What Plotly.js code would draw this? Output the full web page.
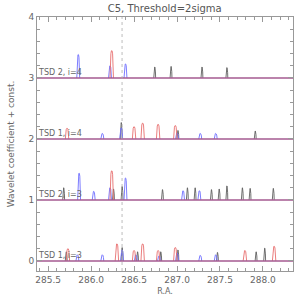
<!DOCTYPE html>
<html><head><meta charset="utf-8">
<script src="https://cdn.plot.ly/plotly-3.0.1.min.js"></script>
<style>html,body{margin:0;padding:0;background:#fff}#c{width:305px;height:305px}</style>
</head><body><div id="c"></div>
<script>
// Panel labels and offsets
const panelLabels = ["TSD 1, i=3", "TSD 2, i=3", "TSD 1, i=4", "TSD 2, i=4"];
const panelOffsets = [0, 1, 2, 3];

// Peak positions (R.A.) and heights, per panel and colour
const p0RedX = [285.73, 286.30, 286.50, 286.60, 286.78, 286.98, 287.79, 288.13];
const p0RedH = [0.20, 0.28, 0.17, 0.28, 0.17, 0.22, 0.17, 0.24];
const p0BlueX = [285.84, 286.13, 286.36, 286.52, 286.79, 287.00, 287.27, 287.45];
const p0BlueH = [0.10, 0.10, 0.18, 0.10, 0.08, 0.13, 0.09, 0.10];
const p0BlackX = [285.71, 286.36, 286.54, 286.81, 287.01, 287.47, 287.92, 288.02];
const p0BlackH = [0.15, 0.22, 0.15, 0.15, 0.18, 0.14, 0.15, 0.21];

const p1RedX = [286.24];
const p1RedH = [0.48];
const p1BlueX = [285.86, 286.03, 286.22, 286.40, 287.07, 287.26];
const p1BlueH = [0.44, 0.14, 0.20, 0.36, 0.15, 0.15];
const p1BlackX = [285.68, 286.26, 286.36, 286.83, 287.12, 287.21, 287.40, 287.49, 287.58, 287.76, 287.85, 288.12];
const p1BlackH = [0.20, 0.18, 0.22, 0.17, 0.20, 0.20, 0.17, 0.18, 0.23, 0.20, 0.19, 0.19];

const p2RedX = [285.72, 286.50, 286.60, 286.78, 286.98];
const p2RedH = [0.175, 0.20, 0.26, 0.24, 0.22];
const p2BlueX = [286.13, 286.35, 287.00, 287.27, 287.45];
const p2BlueH = [0.09, 0.18, 0.10, 0.09, 0.09];
const p2BlackX = [286.35, 287.01, 287.91];
const p2BlackH = [0.27, 0.14, 0.13];

const p3RedX = [286.24];
const p3RedH = [0.45];
const p3BlueX = [285.85, 286.22, 286.40];
const p3BlueH = [0.385, 0.20, 0.23];
const p3BlackX = [286.74, 286.93, 287.29, 287.58];
const p3BlackH = [0.18, 0.19, 0.18, 0.17];

const xRange = [285.37, 288.35];
const markerRA = 286.36;

// drawing style
const profDx = [-1, -0.8, -0.5, -0.2, 0, 0.2, 0.5, 0.8, 1];
const profDy = [0, 0.55, 0.88, 0.99, 1, 0.99, 0.88, 0.55, 0];
const colRed = 'rgb(232,110,110)', colBlue = 'rgb(110,110,255)', colBlack = 'rgb(95,95,95)';

function peaks(cx, hs, off, hw, color) {
  const x = [], y = [];
  cx.forEach((c, i) => {
    profDx.forEach((d, j) => { x.push(c + d * hw); y.push(off + profDy[j] * hs[i]); });
    x.push(null); y.push(null);
  });
  return {x, y, type: 'scatter', mode: 'lines', line: {color, width: 0.9}, hoverinfo: 'skip', showlegend: false};
}

const traces = [];
const data = [
  [p0RedX, p0RedH, p0BlueX, p0BlueH, p0BlackX, p0BlackH],
  [p1RedX, p1RedH, p1BlueX, p1BlueH, p1BlackX, p1BlackH],
  [p2RedX, p2RedH, p2BlueX, p2BlueH, p2BlackX, p2BlackH],
  [p3RedX, p3RedH, p3BlueX, p3BlueH, p3BlackX, p3BlackH]
];
data.forEach((d, k) => {
  const off = panelOffsets[k];
  traces.push(peaks(d[4], d[5], off, 0.011, colBlack));
  traces.push(peaks(d[2], d[3], off, 0.017, colBlue));
  traces.push(peaks(d[0], d[1], off, 0.02, colRed));
  traces.push({x: xRange, y: [off, off], type: 'scatter', mode: 'lines',
    line: {color: 'rgb(165,90,145)', width: 1.4}, hoverinfo: 'skip', showlegend: false});
});

const fontFam = 'DejaVu Sans, sans-serif';
const axisCommon = {
  showgrid: false, zeroline: false, showline: true, linecolor: '#999', linewidth: 1,
  mirror: 'ticks', ticks: 'inside', ticklen: 5, tickcolor: '#999', tickwidth: 1,
  tickfont: {family: fontFam, size: 9, color: '#666'}
};

const layout = {
  width: 305, height: 305,
  margin: {l: 37, r: 12, t: 17, b: 34},
  paper_bgcolor: '#fff', plot_bgcolor: '#fff',
  title: {text: 'C5, Threshold=2sigma', font: {family: fontFam, size: 10, color: '#555'}, x: 0.54, xanchor: 'center', y: 0.985, yanchor: 'top'},
  xaxis: Object.assign({}, axisCommon, {
    range: xRange, tickvals: [285.5, 286.0, 286.5, 287.0, 287.5, 288.0],
    ticktext: ['285.5', '286.0', '286.5', '287.0', '287.5', '288.0'],
    minor: {dtick: 0.1, tick0: 285.5, ticks: 'inside', ticklen: 3, tickcolor: '#999'},
    title: {text: 'R.A.', font: {family: fontFam, size: 8, color: '#666'}, standoff: 4}
  }),
  yaxis: Object.assign({}, axisCommon, {
    range: [-0.165, 4], tickvals: [0, 1, 2, 3, 4], ticktext: ['0', '1', '2', '3', '4'],
    minor: {dtick: 0.2, tick0: 0, ticks: 'inside', ticklen: 3, tickcolor: '#999'},
    title: {text: 'Wavelet coefficient + const.', font: {family: fontFam, size: 9, color: '#666'}, standoff: 12}
  }),
  shapes: [{type: 'line', xref: 'x', yref: 'paper', x0: markerRA, x1: markerRA, y0: 0, y1: 1,
    line: {color: '#aaa', width: 0.8, dash: 'dot'}}],
  annotations: panelLabels.map((t, k) => ({
    text: t, xref: 'paper', x: 0.0, xanchor: 'left', yref: 'y', y: panelOffsets[k], yanchor: 'bottom',
    showarrow: false, font: {family: fontFam, size: 8, color: '#666'}, xshift: -1, yshift: -1
  }))
};

Plotly.newPlot('c', traces, layout, {staticPlot: true, displayModeBar: false});
</script></body></html>
